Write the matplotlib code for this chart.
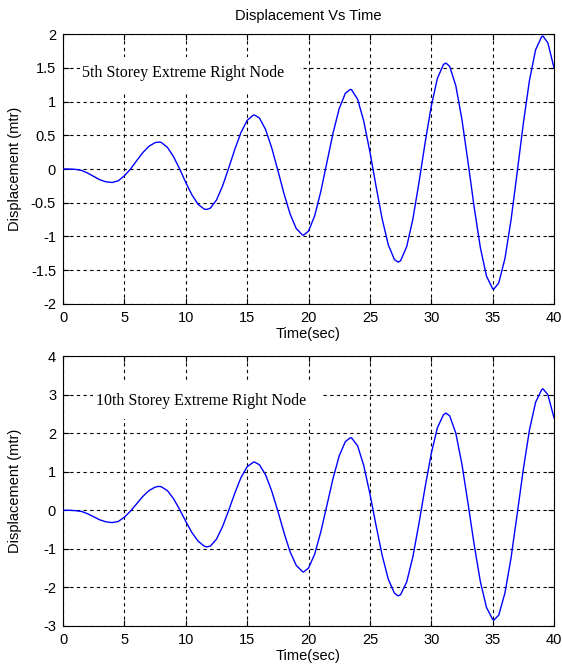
import matplotlib
matplotlib.use("Agg")
import matplotlib.pyplot as plt
from matplotlib.patches import Rectangle

FIG_SIZE = (5.63, 6.68)
SAVE_PATH = "out.png"

time_s = [0, 0.5, 1, 1.5, 2, 2.5, 3, 3.5, 4, 4.5, 5, 5.5, 6, 6.5, 7, 7.5, 7.8,
          8, 8.5, 9, 9.5, 10, 10.5, 11, 11.5, 11.7, 12, 12.5, 13, 13.5, 14, 14.5,
          15, 15.5, 15.6, 16, 16.5, 17, 17.5, 18, 18.5, 19, 19.5, 19.6, 20, 20.5,
          21, 21.5, 22, 22.5, 23, 23.4, 23.5, 24, 24.5, 25, 25.5, 26, 26.5, 27,
          27.3, 27.5, 28, 28.5, 29, 29.5, 30, 30.5, 31, 31.2, 31.5, 32, 32.5, 33,
          33.5, 34, 34.5, 35, 35.1, 35.5, 36, 36.5, 37, 37.5, 38, 38.5, 39, 39.1,
          39.5, 40]

disp_5th = [0, 0, -0.005, -0.02, -0.06, -0.11, -0.16, -0.19, -0.20, -0.175,
            -0.10, 0.0, 0.124, 0.243, 0.337, 0.391, 0.40,
            0.394, 0.322, 0.184, 0.0, -0.20, -0.383, -0.523, -0.594, -0.60,
            -0.58, -0.46, -0.25, 0.016, 0.295, 0.543, 0.72, 0.798, 0.80,
            0.756, 0.586, 0.314, -0.02, -0.365, -0.668, -0.883, -0.977, -0.98,
            -0.92, -0.695, -0.334, 0.10, 0.534, 0.895, 1.122, 1.18,
            1.176, 1.034, 0.71, 0.256, -0.254, -0.74, -1.124, -1.343, -1.38,
            -1.36, -1.15, -0.743, -0.2, 0.39, 0.931, 1.343, 1.551, 1.57,
            1.521, 1.235, 0.733, 0.096, -0.571, -1.165, -1.587, -1.775, -1.78,
            -1.688, -1.33, -0.756, -0.051, 0.674, 1.312, 1.766, 1.964, 1.97,
            1.87, 1.50]

disp_10th = [0, 0, -0.01, -0.03, -0.09, -0.17, -0.25, -0.30, -0.32, -0.29,
             -0.18, -0.02, 0.17, 0.36, 0.51, 0.60, 0.62,
             0.61, 0.51, 0.30, 0.02, -0.29, -0.58, -0.80, -0.93, -0.95,
             -0.93, -0.75, -0.42, 0.0, 0.45, 0.85, 1.13, 1.245, 1.25,
             1.18, 0.92, 0.50, -0.02, -0.58, -1.08, -1.43, -1.59, -1.60,
             -1.50, -1.14, -0.56, 0.13, 0.83, 1.41, 1.78, 1.88,
             1.88, 1.67, 1.16, 0.43, -0.39, -1.17, -1.79, -2.15, -2.22,
             -2.19, -1.86, -1.21, -0.34, 0.60, 1.47, 2.14, 2.48, 2.52,
             2.45, 2.00, 1.19, 0.17, -0.90, -1.85, -2.52, -2.83, -2.85,
             -2.72, -2.15, -1.24, -0.10, 1.06, 2.08, 2.80, 3.13, 3.15,
             3.00, 2.40]

x_ticks = [0, 5, 10, 15, 20, 25, 30, 35, 40]
y_ticks_5th = [-2, -1.5, -1, -0.5, 0, 0.5, 1, 1.5, 2]
y_ticks_10th = [-3, -2, -1, 0, 1, 2, 3, 4]

plt.rcParams['font.family'] = ['Liberation Sans', 'DejaVu Sans']
plt.rcParams['font.size'] = 10.5


def plot_panel(ax, y, yticks, note, note_xy, box):
    ax.plot(time_s, y, color='#0000ff', linewidth=1.0, zorder=3)
    ax.set_xlim(0, 40)
    ax.set_ylim(yticks[0], yticks[-1])
    ax.set_xticks(x_ticks)
    ax.set_yticks(yticks)
    ax.set_yticklabels([f"{v:g}" for v in yticks])
    ax.set_axisbelow(True)
    ax.grid(True, color='black', linestyle=(0, (3, 3)), linewidth=0.8)
    ax.tick_params(direction='in', length=4, top=True, right=True, pad=5)
    ax.set_xlabel("Time(sec)", va='center')
    ax.set_ylabel("Displacement (mtr)", va='center')
    ax.xaxis.set_label_coords(0.5, -0.112)
    ax.yaxis.set_label_coords(-0.098, 0.5)
    for s in ax.spines.values():
        s.set_linewidth(0.8)
    # white patch behind the note, hides the grid like the original
    ax.add_patch(Rectangle((box[0], box[1]), box[2], box[3], transform=ax.transAxes,
                           facecolor='white', edgecolor='none', zorder=2))
    ax.text(note_xy[0], note_xy[1], note, family='Liberation Serif', fontsize=11.5,
            va='center', ha='left', zorder=4)


fig = plt.figure(figsize=FIG_SIZE, dpi=100)
ax_top = fig.add_axes([0.112, 0.545, 0.872, 0.404])
ax_bot = fig.add_axes([0.112, 0.063, 0.872, 0.404])

plot_panel(ax_top, disp_5th, y_ticks_5th, "5th Storey Extreme Right Node",
           (1.55, 1.42), (0.035, 0.781, 0.448, 0.134))
plot_panel(ax_bot, disp_10th, y_ticks_10th, "10th Storey Extreme Right Node",
           (2.7, 2.83), (0.061, 0.767, 0.468, 0.133))
fig.text(0.548, 0.976, "Displacement Vs Time", ha='center', va='center')

fig.savefig(SAVE_PATH, dpi=100)
